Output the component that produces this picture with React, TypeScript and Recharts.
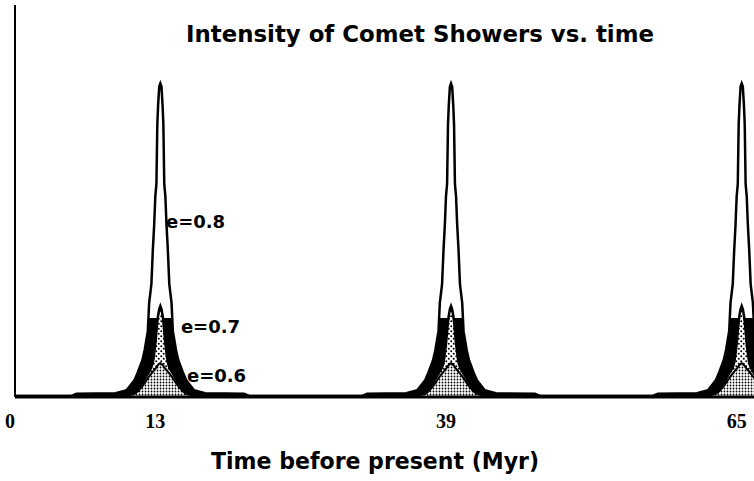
import React from 'react';
import { ComposedChart, Area, XAxis, YAxis, ReferenceDot, ReferenceLine } from 'recharts';

// Shower peak centres (Myr before present)
const peakCenters = [13, 39, 65];
// Offsets from each peak centre (Myr) at which the profiles were read
const profileOffsets = [0, 0.1, 0.2, 0.27, 0.35, 0.45, 0.55, 0.67, 0.8, 1.0, 1.12, 1.4, 1.6, 2.0, 2.3, 3.0, 4.0, 7.5, 8.0];
// Relative intensity for each eccentricity (same for every peak)
const intensityE08 = [100, 99, 93, 87, 68, 64, 55, 47, 36, 30, 21, 15, 11.8, 8, 5.4, 2.2, 1.2, 1.0, 0.3];
const intensityE07 = [29, 28, 26, 24, 21, 17, 14, 11, 9.5, 8.2, 7.5, 5.8, 4.6, 2.6, 1.6, 0.7, 0.4, 0.3, 0.3];
const intensityE06 = [10.8, 10.6, 10.2, 9.9, 9.5, 9.0, 8.6, 8.1, 7.5, 6.6, 6.0, 4.5, 3.5, 1.8, 1.0, 0.4, 0.3, 0.2, 0.2];
// Background level between showers
const backgroundLevel = { e08: 0.3, e07: 0.3, e06: 0.2 };

const xTicks = [0, 13, 39, 65];
const xDomain = [0, 66.1];
const yDomain = [0, 125];

const titleText = 'Intensity of Comet Showers vs. time';
const xLabelText = 'Time before present (Myr)';

const annotations = [
  { text: 'e=0.8', x: 13.5, y: 54 },
  { text: 'e=0.7', x: 14.84, y: 20.4 },
  { text: 'e=0.6', x: 15.38, y: 4.8 },
];

type Row = { x: number; e08: number; e07: number; e06: number };

function buildRows(): Row[] {
  const rows: Row[] = [];
  rows.push({ x: xDomain[0], ...backgroundLevel });
  peakCenters.forEach((c) => {
    for (let i = profileOffsets.length - 1; i >= 0; i--) {
      rows.push({ x: c - profileOffsets[i], e08: intensityE08[i], e07: intensityE07[i], e06: intensityE06[i] });
    }
    for (let i = 1; i < profileOffsets.length; i++) {
      rows.push({ x: c + profileOffsets[i], e08: intensityE08[i], e07: intensityE07[i], e06: intensityE06[i] });
    }
  });
  rows.sort((a, b) => a.x - b.x);
  return rows;
}

const rows = buildRows();
const FONT = '"DejaVu Sans", sans-serif';

const makeLabel = (text: string) => (props: any) => {
  const vb = props.viewBox || {};
  return (
    <text x={vb.x} y={vb.y} fontFamily={FONT} fontWeight="bold" fontSize={18} fill="#000">
      {text}
    </text>
  );
};

export default function App() {
  return (
    <div style={{ position: 'absolute', left: 0, top: 0, width: 754, height: 481, background: '#fff' }}>
      <ComposedChart width={754} height={481} data={rows} margin={{ top: 5, right: 0, left: 15, bottom: 0 }}>
        <defs>
          <linearGradient id="g08" gradientUnits="userSpaceOnUse" x1="0" y1="0" x2="0" y2="481">
            <stop offset="0" stopColor="#fff" />
            <stop offset="0.661" stopColor="#fff" />
            <stop offset="0.661" stopColor="#000" />
            <stop offset="1" stopColor="#000" />
          </linearGradient>
          <pattern id="p07" patternUnits="userSpaceOnUse" width="5" height="5">
            <rect width="5" height="5" fill="#fff" />
            <circle cx="1.25" cy="1.25" r="1" fill="#000" />
            <circle cx="3.75" cy="3.75" r="1" fill="#000" />
          </pattern>
          <pattern id="p06" patternUnits="userSpaceOnUse" width="3" height="3">
            <rect width="3" height="3" fill="#fff" />
            <circle cx="1.5" cy="1.5" r="0.9" fill="#000" />
          </pattern>
        </defs>
        <XAxis
          type="number"
          dataKey="x"
          domain={xDomain}
          ticks={xTicks}
          interval={0}
          allowDataOverflow
          height={84}
          axisLine={{ stroke: '#000', strokeWidth: 3 }}
          tickLine={false}
          tickSize={0}
          tickMargin={17}
          tick={{ fill: '#000', fontSize: 20, fontFamily: '"Liberation Serif", serif', fontWeight: 'bold', dx: -5 }}
        />
        <YAxis type="number" domain={yDomain} allowDataOverflow hide />
        <Area type="linear" dataKey="e08" stroke="#000" strokeWidth={2.5} fill="url(#g08)" fillOpacity={1} isAnimationActive={false} dot={false} activeDot={false} />
        <Area type="linear" dataKey="e07" stroke="#000" strokeWidth={2.5} fill="url(#p07)" fillOpacity={1} isAnimationActive={false} dot={false} activeDot={false} />
        <Area type="linear" dataKey="e06" stroke="#000" strokeWidth={2} fill="url(#p06)" fillOpacity={1} isAnimationActive={false} dot={false} activeDot={false} />
        <ReferenceLine x={0} stroke="#000" strokeWidth={2} />
        {annotations.map((a) => (
          <ReferenceDot key={a.text} x={a.x} y={a.y} r={0} fill="none" stroke="none" label={makeLabel(a.text)} />
        ))}
      </ComposedChart>
      <svg width={754} height={481} style={{ position: 'absolute', left: 0, top: 0, pointerEvents: 'none' }}>
        <text x={420} y={42} textAnchor="middle" fontFamily={FONT} fontWeight="bold" fontSize={23} textLength={468} lengthAdjust="spacingAndGlyphs" fill="#000">
          {titleText}
        </text>
        <text x={375} y={469} textAnchor="middle" fontFamily={FONT} fontWeight="bold" fontSize={23} textLength={328} lengthAdjust="spacingAndGlyphs" fill="#000">
          {xLabelText}
        </text>
      </svg>
    </div>
  );
}
